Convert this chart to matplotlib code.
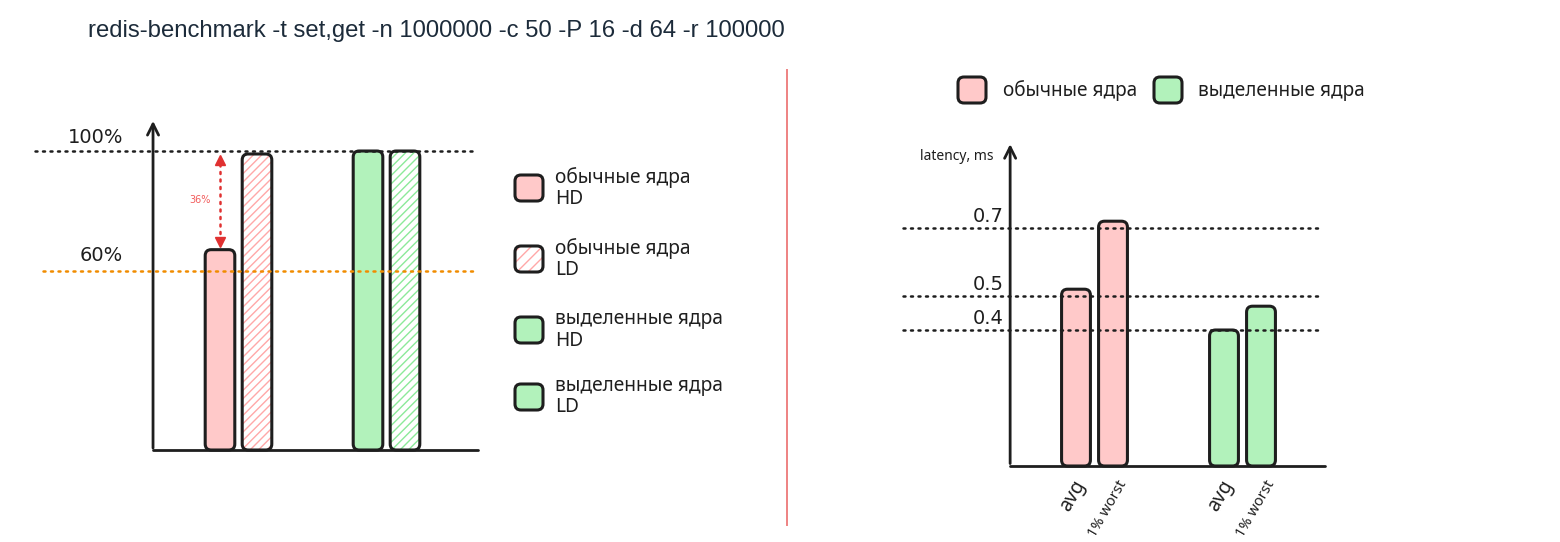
import matplotlib
matplotlib.use("Agg")
import matplotlib.pyplot as plt
from matplotlib.patches import FancyBboxPatch

# ------------------------------------------------
# data
# ------------------------------------------------
title = "redis-benchmark -t set,get -n 1000000 -c 50 -P 16 -d 64 -r 100000"

# left chart: throughput relative to the best run, %
thr_labels = ["обычные ядра\nHD", "обычные ядра\nLD", "выделенные ядра\nHD", "выделенные ядра\nLD"]
thr_values = [67, 99, 100, 100]
thr_refs = [100, 60]
thr_ref_labels = ["100%", "60%"]
thr_gap_label = "36%"

# right chart: latency, ms
lat_groups = ["обычные ядра", "выделенные ядра"]
lat_ticks = ["avg", "1% worst", "avg", "1% worst"]
lat_values = [0.52, 0.72, 0.40, 0.47]
lat_refs = [0.7, 0.5, 0.4]
lat_ylabel = "latency, ms"

# ------------------------------------------------
# style
# ------------------------------------------------
INK = "#1e1e1e"
PINK = "#ffc9c9"
PINK_H = "#ffa8a8"
GREEN = "#b2f2bb"
GREEN_H = "#8ce99a"
ORANGE = "#f08c00"
RED = "#e03131"
DOT = (0, (0.8, 2.2))

W, H = 1560, 542
fig = plt.figure(figsize=(W / 100, H / 100), dpi=100)
plt.rcParams["hatch.linewidth"] = 1.0


def px_axes(x0, y0, x1, y1):
    a = fig.add_axes([x0 / W, 1 - y1 / H, (x1 - x0) / W, (y1 - y0) / H])
    a.set_facecolor("none")
    a.axis("off")
    return a


def rounded(ax, bars, r_px, hatches):
    # swap the plain bar rectangles for rounded ones
    x0, x1 = ax.get_xlim()
    y0, y1 = ax.get_ylim()
    bb = ax.get_position()
    rx = r_px * (x1 - x0) / (bb.width * W)
    ry = r_px * (y1 - y0) / (bb.height * H)
    for b, h in zip(bars, hatches):
        x, y = b.get_xy()
        w, hh = b.get_width(), b.get_height()
        style = f"round,pad=0,rounding_size={rx}"
        fc = b.get_facecolor()
        if h:
            ax.add_patch(FancyBboxPatch((x, y), w, hh, boxstyle=style, mutation_aspect=ry / rx,
                                        fc="white", ec=h, lw=0, hatch="////", zorder=2))
            fc = "none"
        ax.add_patch(FancyBboxPatch((x, y), w, hh, boxstyle=style, mutation_aspect=ry / rx,
                                    fc=fc, ec=INK, lw=2.2, zorder=3, joinstyle="round"))
        b.remove()


# canvas in pixel units for title, divider and legends
cv = px_axes(0, 0, W, H)
cv.set_xlim(0, W)
cv.set_ylim(H, 0)
cv.text(88, 31, title, fontsize=17.2, family="Liberation Sans", color="#1c2b3a", va="center")
cv.plot([787, 787], [70, 525], color="#ee8282", lw=1.4)

# ------------------------------------------------
# left chart
# ------------------------------------------------
ax = px_axes(30, 110, 480, 460)
ax.set_xlim((30 - 220) / 37, (480 - 220) / 37)
ax.set_ylim((450 - 460) / 2.99, (450 - 110) / 2.99)
pos = [0, 1, 4, 5]
bars = ax.bar(pos, thr_values, width=0.8, color=[PINK, PINK, GREEN, GREEN])
rounded(ax, bars, 6, [None, PINK_H, None, GREEN_H])

ax.annotate("", xy=(-1.81, 111), xytext=(-1.81, -0.3),
            arrowprops=dict(arrowstyle="->", lw=2, color=INK, mutation_scale=20))
ax.plot([-1.81, 6.97], [0, 0], color=INK, lw=2, solid_capstyle="round", zorder=4)
ax.plot([-5.0, 6.9], [thr_refs[0]] * 2, color=INK, lw=1.8, ls=DOT, dash_capstyle="round", zorder=5)
ax.plot([-4.78, 6.9], [thr_refs[1]] * 2, color=ORANGE, lw=1.8, ls=DOT, dash_capstyle="round", zorder=5)
ax.text(-3.35, thr_refs[0] + 1.5, thr_ref_labels[0], fontsize=14, color=INK, ha="center", va="bottom")
ax.text(-3.2, thr_refs[1] + 2.0, thr_ref_labels[1], fontsize=14, color=INK, ha="center", va="bottom")

# gap marker between the 100% line and the HD bar
ax.plot([0, 0], [thr_values[0] + 3, thr_refs[0] - 3], color=RED, lw=1.8, ls=DOT, dash_capstyle="round")
ax.plot([0], [thr_refs[0] - 3], marker="^", ms=7, color=RED)
ax.plot([0], [thr_values[0] + 2.5], marker="v", ms=7, color=RED)
ax.text(-0.55, (thr_values[0] + thr_refs[0]) / 2, thr_gap_label, fontsize=7, color="#f25c5c",
        ha="center", va="center")

# left legend
leg_y = [175, 246, 317, 384]
for i, lab in enumerate(thr_labels):
    y = leg_y[i]
    fc = [PINK, "white", GREEN, GREEN][i]
    if i == 1:
        cv.add_patch(FancyBboxPatch((515, y), 28, 26, boxstyle="round,pad=0,rounding_size=6",
                                    fc="white", ec=PINK_H, lw=0, hatch="///"))
        fc = "none"
    cv.add_patch(FancyBboxPatch((515, y), 28, 26, boxstyle="round,pad=0,rounding_size=6",
                                fc=fc, ec=INK, lw=2.2))
    cv.text(555, y - 8, lab, fontsize=13.8, family="Noto Sans", color=INK, va="top", linespacing=1.1)

# ------------------------------------------------
# right chart
# ------------------------------------------------
ax2 = px_axes(890, 130, 1340, 542)
ax2.set_xlim((890 - 1076) / 37, (1340 - 1076) / 37)
ax2.set_ylim((466 - 542) / 340, (466 - 130) / 340)
bars2 = ax2.bar(pos, lat_values, width=0.78, color=[PINK, PINK, GREEN, GREEN])
rounded(ax2, bars2, 6, [None] * 4)

ax2.annotate("", xy=(-1.78, 0.955), xytext=(-1.78, -0.001),
             arrowprops=dict(arrowstyle="->", lw=2, color=INK, mutation_scale=20))
ax2.plot([-1.78, 6.73], [0, 0], color=INK, lw=2, solid_capstyle="round", zorder=4)
for v in lat_refs:
    ax2.plot([-4.68, 6.54], [v, v], color=INK, lw=1.8, ls=DOT, dash_capstyle="round", zorder=5)
    ax2.text(-1.95, v + 0.006, f"{v:g}", fontsize=14, color=INK, ha="right", va="bottom")
ax2.text(-4.22, 0.91, lat_ylabel, fontsize=10, family="Noto Sans", color=INK, va="center")

for p, lab in zip(pos, lat_ticks):
    big = lab == "avg"
    ax2.text(p + (0.12 if big else 0.28), -0.045, lab, fontsize=14 if big else 10.5,
             family="Noto Sans", color=INK, rotation=60, rotation_mode="anchor",
             ha="right", va="center")

# right legend
for x, tx, lab, fc in [(958, 1003, lat_groups[0], PINK), (1154, 1198, lat_groups[1], GREEN)]:
    cv.add_patch(FancyBboxPatch((x, 77), 28, 26, boxstyle="round,pad=0,rounding_size=6",
                                fc=fc, ec=INK, lw=2.2))
    cv.text(tx, 91, lab, fontsize=13.7, family="Noto Sans", color=INK, va="center")

fig.savefig("out.png", dpi=100)
